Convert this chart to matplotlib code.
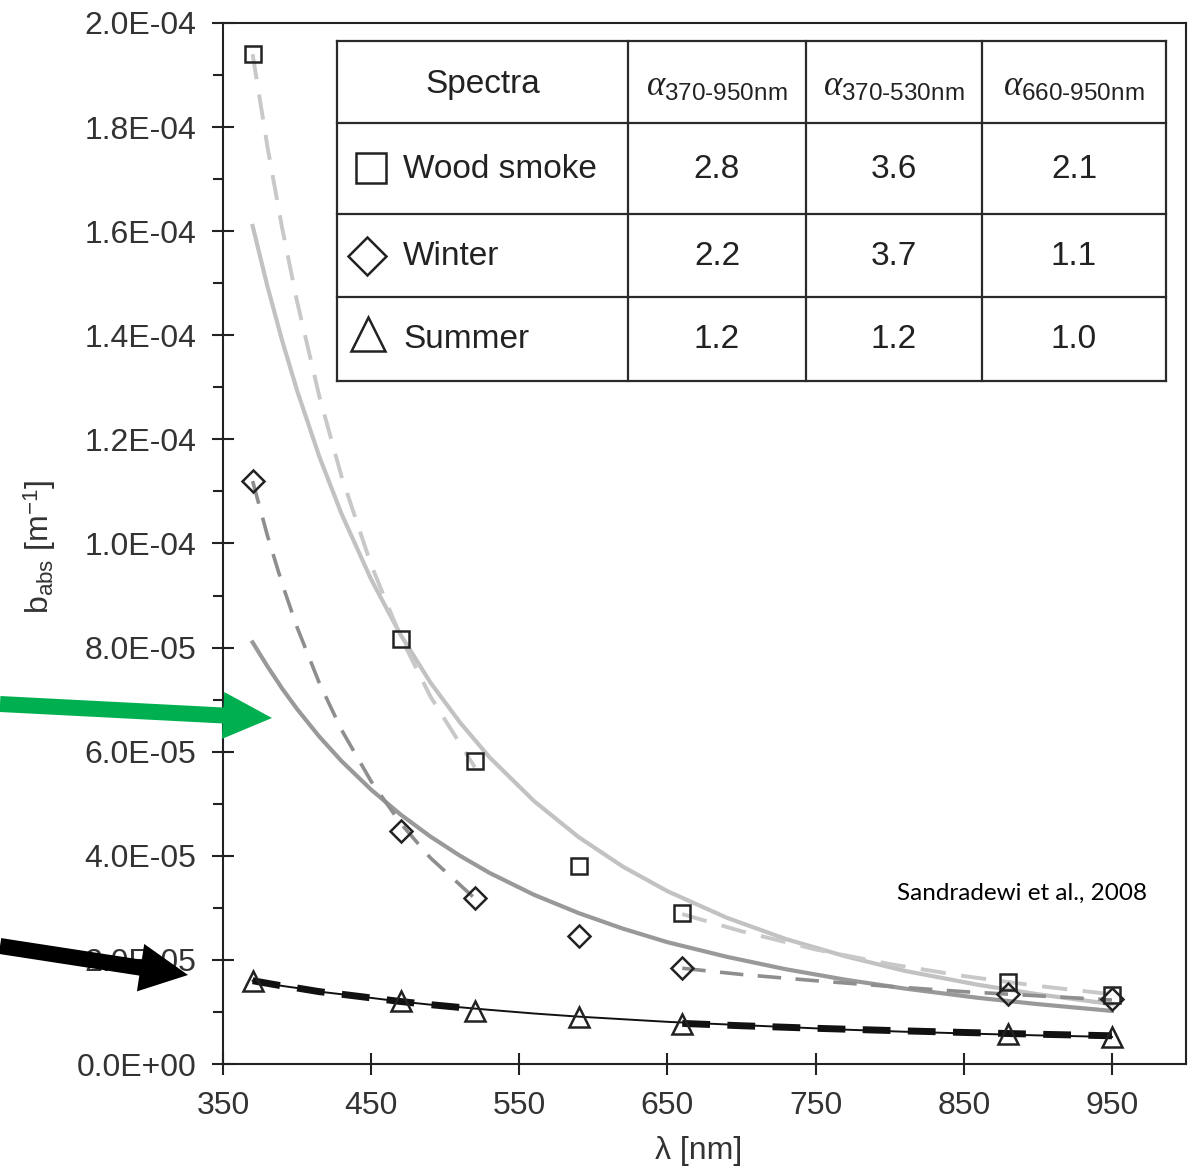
import matplotlib
matplotlib.use('Agg')
import numpy as np
import matplotlib.pyplot as plt
from matplotlib.ticker import MultipleLocator, FuncFormatter
from matplotlib.patches import FancyArrow, Rectangle
from matplotlib.lines import Line2D
from matplotlib.transforms import Affine2D

plt.rcParams['font.family'] = ['Liberation Sans', 'DejaVu Sans']
plt.rcParams['mathtext.fontset'] = 'custom'
plt.rcParams['mathtext.rm'] = 'Liberation Sans'
plt.rcParams['mathtext.it'] = 'Liberation Serif:italic'
plt.rcParams['mathtext.bf'] = 'Liberation Sans:bold'

UNIT = 1e-5

# measured absorption (units of 1e-5 m^-1)
wavelengths = [370, 470, 520, 590, 660, 880, 950]
wood_smoke = [19.4, 8.17, 5.82, 3.80, 2.90, 1.58, 1.33]
winter = [11.2, 4.48, 3.19, 2.46, 1.84, 1.34, 1.25]
summer = [1.59, 1.21, 1.02, 0.90, 0.77, 0.58, 0.52]

# power-law fits over 370-950 nm (solid lines)
fit_wl = [370, 380, 390, 400, 415, 430, 450, 470, 490, 510, 530, 560, 590, 620, 650,
          690, 730, 770, 810, 860, 900, 950]
wood_fit = [16.1, 14.94, 13.89, 12.94, 11.67, 10.57, 9.31, 8.24, 7.33, 6.56, 5.89, 5.05,
            4.36, 3.79, 3.32, 2.81, 2.40, 2.07, 1.79, 1.52, 1.34, 1.15]
winter_fit = [8.1, 7.64, 7.21, 6.82, 6.29, 5.82, 5.27, 4.79, 4.37, 4.00, 3.67, 3.25,
              2.90, 2.60, 2.34, 2.06, 1.82, 1.62, 1.45, 1.27, 1.15, 1.02]
summer_fit = [1.60, 1.55, 1.50, 1.46, 1.39, 1.34, 1.27, 1.20, 1.14, 1.09, 1.04, 0.97,
              0.91, 0.86, 0.81, 0.76, 0.71, 0.66, 0.62, 0.58, 0.55, 0.52]

# fits over 370-530 nm (dashed)
uv_wl = [370, 380, 390, 400, 415, 430, 450, 470, 490, 520]
wood_uv = [19.4, 17.62, 16.05, 14.65, 12.83, 11.29, 9.59, 8.20, 7.06, 5.70]
winter_uv = [11.2, 10.15, 9.22, 8.39, 7.32, 6.42, 5.43, 4.62, 3.96, 3.18]
summer_uv = [1.60, 1.55, 1.50, 1.46, 1.39, 1.34, 1.27, 1.20, 1.14, 1.06]

# fits over 660-950 nm (dashed)
ir_wl = [660, 700, 750, 800, 850, 900, 950]
wood_ir = [2.88, 2.55, 2.20, 1.92, 1.69, 1.50, 1.34]
winter_ir = [1.84, 1.72, 1.60, 1.49, 1.39, 1.31, 1.23]
summer_ir = [0.78, 0.735, 0.686, 0.644, 0.606, 0.572, 0.542]

# table contents
spectra = ['Wood smoke', 'Winter', 'Summer']
alpha_370_950 = [2.8, 2.2, 1.2]
alpha_370_530 = [3.6, 3.7, 1.2]
alpha_660_950 = [2.1, 1.1, 1.0]
x_ticks = [350, 450, 550, 650, 750, 850, 950]

def u(v):
    return np.array(v) * UNIT

W, H = 1188, 1167
fig = plt.figure(figsize=(W / 100, H / 100), dpi=100)
PX = Affine2D().scale(1 / W, -1 / H).translate(0, 1) + fig.transFigure

ax = fig.add_axes([223 / W, 1 - 1064 / H, (1186 - 223) / W, (1064 - 23) / H])

wood_c = '#c2c2c2'
winter_c = '#999999'
mk_c = '#222222'

# solid fits
ax.plot(fit_wl, u(wood_fit), color=wood_c, lw=3.0)
ax.plot(fit_wl, u(winter_fit), color=winter_c, lw=3.0)
ax.plot(fit_wl, u(summer_fit), color='#111111', lw=1.4)
# dashed segment fits
for xs, ys, c, lw, d in [(uv_wl, wood_uv, '#c8c8c8', 2.8, (6.5, 4)),
                         (ir_wl, wood_ir, '#c8c8c8', 2.8, (6.5, 4)),
                         (uv_wl, winter_uv, '#8e8e8e', 2.6, (6.5, 4)),
                         (ir_wl, winter_ir, '#8e8e8e', 2.6, (6.5, 4)),
                         (uv_wl, summer_uv, '#111111', 5.0, (4, 2.5)),
                         (ir_wl, summer_ir, '#111111', 5.0, (4, 2.5))]:
    ax.plot(xs, u(ys), color=c, lw=lw, dashes=d)

# markers
ax.plot(wavelengths, u(wood_smoke), 's', ms=11, mfc='none', mec=mk_c, mew=1.8)
ax.plot(wavelengths, u(winter), 'D', ms=11.5, mfc='none', mec=mk_c, mew=1.8)
ax.plot(wavelengths, u(summer), '^', ms=14, mfc='none', mec=mk_c, mew=1.8)

ax.set_xlim(350, 1000)
ax.set_ylim(0, 2e-4)
ax.set_xticks(x_ticks)
ax.yaxis.set_major_locator(MultipleLocator(2e-5))
ax.yaxis.set_minor_locator(MultipleLocator(1e-5))
ax.yaxis.set_major_formatter(FuncFormatter(lambda v, p: '{:.1E}'.format(v)))
ax.tick_params(axis='both', which='major', direction='inout', length=16.5, width=1.5,
               labelsize=23, labelcolor='#333333', color='#222222', pad=11)
ax.tick_params(axis='y', which='minor', direction='out', length=7.5, width=1.5, color='#222222')
for s in ax.spines.values():
    s.set_linewidth(1.5)
    s.set_color('#222222')

fig.text(40 / W, 1 - 547 / H, r'b$_{\mathrm{abs}}$ [m$^{\mathrm{-1}}$]', rotation=90,
         ha='center', va='center', fontsize=23, color='#333333')
fig.text(699 / W, 1 - 1151 / H, 'λ [nm]', ha='center', va='center', fontsize=23, color='#333333')
fig.text(897 / W, 1 - 893 / H, 'Sandradewi et al., 2008', ha='left', va='center',
         fontsize=17.5, family=['Lato', 'DejaVu Sans'], color='black')

# table
tl, tr, tt, tb = 337, 1166, 41, 381
cols = [tl, 628, 806, 982, tr]
rows = [tt, 123, 214, 297, tb]
fig.add_artist(Rectangle((tl, tt), tr - tl, tb - tt, transform=PX, facecolor='white',
                         edgecolor='none', zorder=1))
for xc in cols:
    fig.add_artist(Line2D([xc, xc], [tt, tb], transform=PX, color='#2a2a2a', lw=1.6, zorder=2))
for yr in rows:
    fig.add_artist(Line2D([tl, tr], [yr, yr], transform=PX, color='#2a2a2a', lw=1.6, zorder=2))

tfs = 24
hc = [(cols[i] + cols[i + 1]) / 2 for i in range(4)]
rc = [(rows[i] + rows[i + 1]) / 2 for i in range(4)]
fig.text(hc[0] / W, 1 - 84 / H, 'Spectra', ha='center', va='center', fontsize=tfs, color='#222222')
for i, lab in enumerate([r'$\alpha_{\text{370-950nm}}$', r'$\alpha_{\text{370-530nm}}$',
                         r'$\alpha_{\text{660-950nm}}$']):
    fig.text(hc[i + 1] / W, 1 - 86 / H, lab, ha='center', va='center', fontsize=25, color='#222222')

markers = ['s', 'D', '^']
msz = [21.6, 19.5, 25]
mpos = [(371, 168), (367, 256), (368, 334)]
for i, name in enumerate(spectra):
    yc = rc[i + 1] + 1
    fig.add_artist(Line2D([mpos[i][0]], [mpos[i][1]], transform=PX, marker=markers[i], ms=msz[i],
                          mfc='none', mec='#222222', mew=1.8, zorder=3))
    fig.text(403 / W, 1 - yc / H, name, ha='left', va='center', fontsize=tfs, color='#222222')
    for j, vals in enumerate([alpha_370_950, alpha_370_530, alpha_660_950]):
        fig.text(hc[j + 1] / W, 1 - yc / H, '{:.1f}'.format(vals[i]), ha='center', va='center',
                 fontsize=tfs, color='#222222')

# annotation arrows
fig.add_artist(FancyArrow(0, 704, 272, 14, width=16, head_width=47, head_length=49,
                          length_includes_head=True, transform=PX, color='#00b050', lw=0, zorder=4))
fig.add_artist(FancyArrow(0, 946, 188, 29, width=16, head_width=48, head_length=48,
                          length_includes_head=True, transform=PX, color='black', lw=0, zorder=4))

fig.savefig('out.png', dpi=100)
